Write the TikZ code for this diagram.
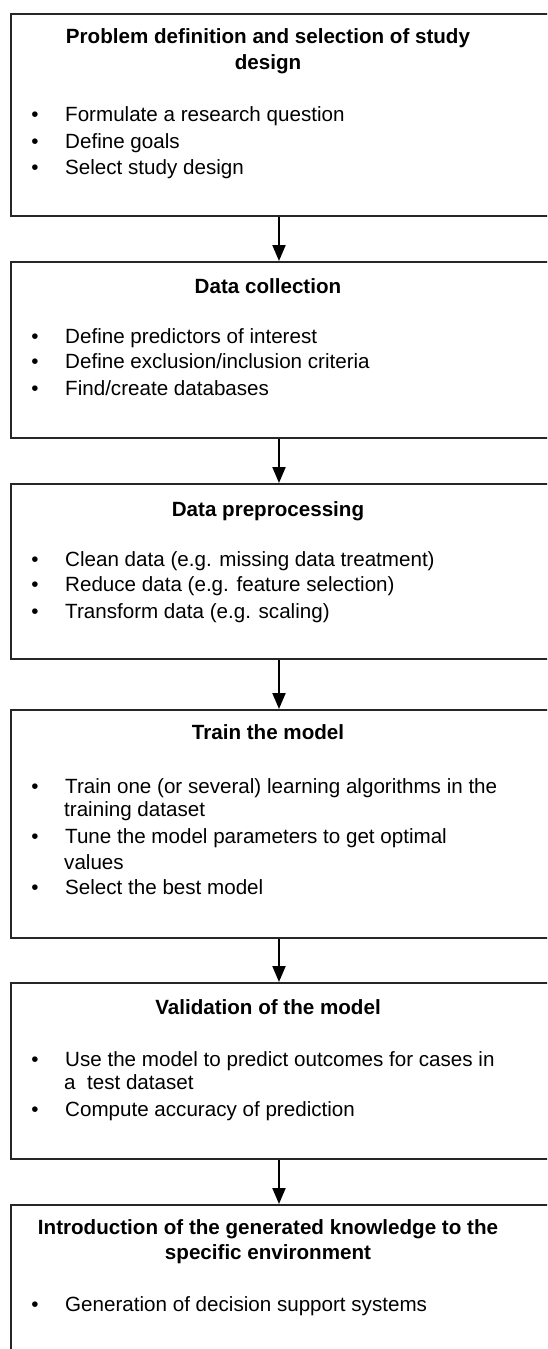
\documentclass[tikz,border=0pt]{standalone}
\usepackage{fontspec}
\setmainfont{Liberation Sans}
\usetikzlibrary{arrows.meta}
\begin{document}
\begin{tikzpicture}[x=1pt,y=-1pt,
  stagebox/.style={draw=black!85, line width=2.4pt, rectangle, anchor=north west, minimum width=560pt, inner sep=0pt},
  ttl/.style={anchor=base, font=\fontsize{20.6pt}{24pt}\selectfont\bfseries, inner sep=0pt},
  itm/.style={anchor=base west, font=\fontsize{20.6pt}{24pt}\selectfont, inner sep=0pt},
  bul/.style={anchor=base, font=\fontsize{20.6pt}{24pt}\selectfont, inner sep=0pt},
  flow/.style={line width=2pt, -{Triangle[width=13pt,length=16pt]}}]
\path[use as bounding box] (0,0) rectangle (547,1349);
\clip (0,0) rectangle (547,1349);
\fill[white] (0,0) rectangle (547,1349);
\coordinate (ax) at (279,0);

% Box 1
\node[stagebox, minimum height=202pt] (b1) at (10,13) {};
\node[ttl] (t1a) at (268,43.5) {Problem definition and selection of study};
\node[ttl] (t1b) at (268,69.5) {design};
\node[bul] (d1a) at (35,121.5) {\textbullet};
\node[itm] (i1a) at (65,121.5) {Formulate a research question};
\node[bul] (d1b) at (35,148.5) {\textbullet};
\node[itm] (i1b) at (65,148.5) {Define goals};
\node[bul] (d1c) at (35,174.5) {\textbullet};
\node[itm] (i1c) at (65,174.5) {Select study design};

% Box 2
\node[stagebox, minimum height=176pt] (b2) at (10,261) {};
\node[ttl] (t2) at (268,293.5) {Data collection};
\node[bul] (d2a) at (35,343.5) {\textbullet};
\node[itm] (i2a) at (65,343.5) {Define predictors of interest};
\node[bul] (d2b) at (35,368.5) {\textbullet};
\node[itm] (i2b) at (65,368.5) {Define exclusion/inclusion criteria};
\node[bul] (d2c) at (35,395.5) {\textbullet};
\node[itm] (i2c) at (65,395.5) {Find/create databases};

% Box 3
\node[stagebox, minimum height=175pt] (b3) at (10,483) {};
\node[ttl] (t3) at (268,516.5) {Data preprocessing};
\node[bul] (d3a) at (35,566.5) {\textbullet};
\node[itm] (i3a) at (65,566.5) {Clean data (e.g. missing data treatment)};
\node[bul] (d3b) at (35,591.5) {\textbullet};
\node[itm] (i3b) at (65,591.5) {Reduce data (e.g. feature selection)};
\node[bul] (d3c) at (35,618.5) {\textbullet};
\node[itm] (i3c) at (65,618.5) {Transform data (e.g. scaling)};

% Box 4
\node[stagebox, minimum height=228pt] (b4) at (10,709) {};
\node[ttl] (t4) at (268,739.5) {Train the model};
\node[bul] (d4a) at (35,793.5) {\textbullet};
\node[itm] (i4a) at (65,793.5) {Train one (or several) learning algorithms in the};
\node[itm] (i4a2) at (64,816.5) {training dataset};
\node[bul] (d4b) at (35,843.5) {\textbullet};
\node[itm] (i4b) at (65,843.5) {Tune the model parameters to get optimal};
\node[itm] (i4b2) at (64,869.5) {values};
\node[bul] (d4c) at (35,894.5) {\textbullet};
\node[itm] (i4c) at (65,894.5) {Select the best model};

% Box 5
\node[stagebox, minimum height=176pt] (b5) at (10,982) {};
\node[ttl] (t5) at (268,1014.5) {Validation of the model};
\node[bul] (d5a) at (35,1066.5) {\textbullet};
\node[itm] (i5a) at (65,1066.5) {Use the model to predict outcomes for cases in};
\node[itm] (i5a2) at (64,1089.5) {a\ \ test dataset};
\node[bul] (d5b) at (35,1116.5) {\textbullet};
\node[itm] (i5b) at (65,1116.5) {Compute accuracy of prediction};

% Box 6
\node[stagebox, minimum height=220pt] (b6) at (10,1204) {};
\node[ttl] (t6a) at (268,1234.5) {Introduction of the generated knowledge to the};
\node[ttl] (t6b) at (268,1259.5) {specific environment};
\node[bul] (d6a) at (35,1311.5) {\textbullet};
\node[itm] (i6a) at (65,1311.5) {Generation of decision support systems};

% Arrows
\draw[flow] (b1.south -| ax) -- (b2.north -| ax);
\draw[flow] (b2.south -| ax) -- (b3.north -| ax);
\draw[flow] (b3.south -| ax) -- (b4.north -| ax);
\draw[flow] (b4.south -| ax) -- (b5.north -| ax);
\draw[flow] (b5.south -| ax) -- (b6.north -| ax);
\end{tikzpicture}
\end{document}
